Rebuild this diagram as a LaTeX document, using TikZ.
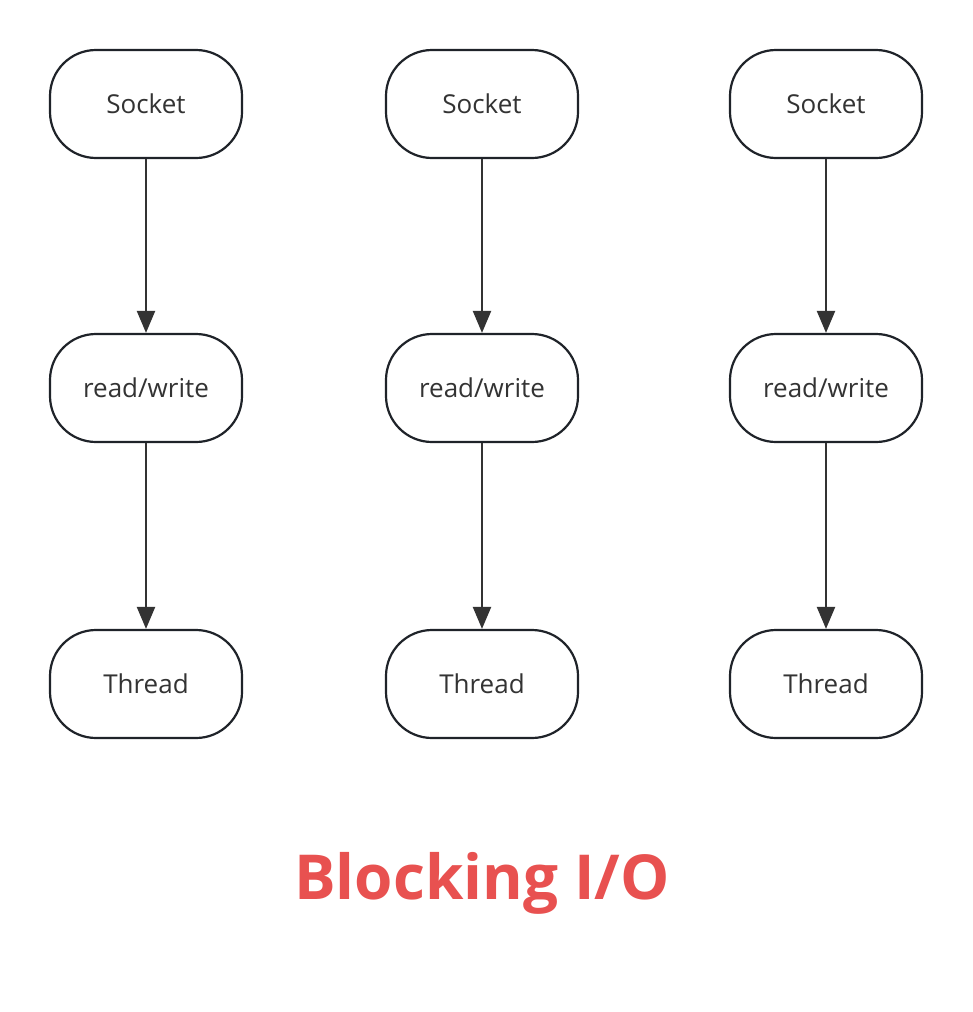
\documentclass[tikz,border=0pt]{standalone}
\usepackage{fontspec}
\setmainfont{Open Sans}
\usetikzlibrary{arrows.meta}
\definecolor{edge}{HTML}{1F2329}
\definecolor{arrowc}{HTML}{333333}
\definecolor{titlec}{HTML}{E85150}
\tikzset{
  x=1pt, y=-1pt,
  box/.style={draw=edge, line width=2.2pt, rounded corners=46pt, minimum width=192pt, minimum height=108pt, inner sep=0pt, fill=white, text=black!80, font=\fontsize{26}{30}\selectfont},
  link/.style={draw=arrowc, line width=2.2pt, -{Triangle[width=18pt,length=22pt]}}
}
\begin{document}
\begin{tikzpicture}
\useasboundingbox (0,0) rectangle (972,1012);
\foreach \c/\x in {a/146,b/482,c/826}{
  \node[box] (s\c) at (\x,104) {Socket};
  \node[box] (r\c) at (\x,388) {read/write};
  \node[box] (t\c) at (\x,684) {Thread};
  \draw[link] (s\c) -- (r\c);
  \draw[link] (r\c) -- (t\c);
}
\node[text=titlec, font=\fontsize{62}{70}\selectfont\bfseries] (title) at (482,883) {Blocking I/O};
\end{tikzpicture}
\end{document}
